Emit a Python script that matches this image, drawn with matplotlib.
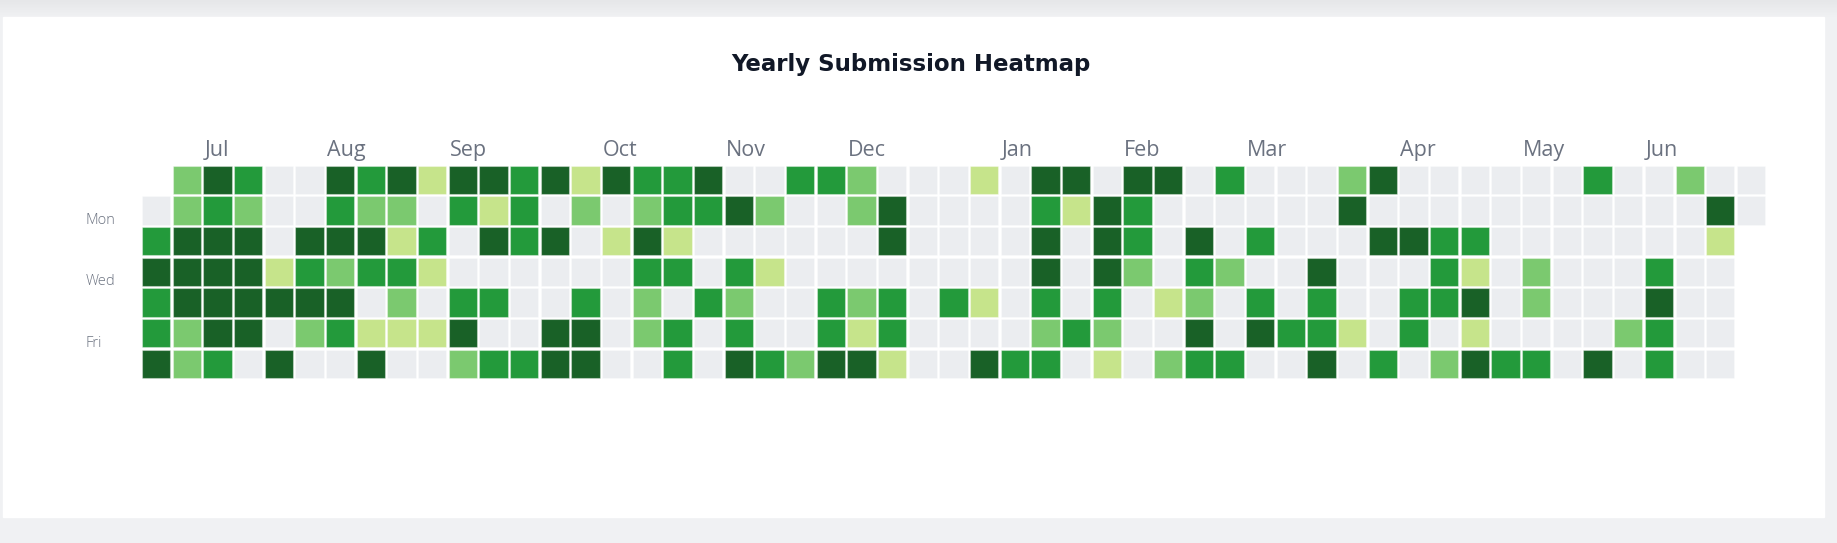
import datetime as dt
import numpy as np
import matplotlib.pyplot as plt
from matplotlib.patches import Rectangle
from matplotlib.colors import LinearSegmentedColormap

# Aktivitetsnivå per dag (0-4), juli 2024 - juni 2025
jul = [0, 3, 4, 3, 3, 4, 2, 2, 4, 4, 4, 2, 2, 4, 3, 4, 4, 4, 4, 3, 3, 2, 4, 4, 4, 4, 0, 0, 0, 0, 1]
aug = [4, 0, 4, 0, 0, 4, 3, 4, 2, 0, 4, 3, 4, 2, 4, 3, 0, 3, 2, 4, 3, 0, 1, 4, 4, 2, 1, 3, 2, 1, 0]
sep = [1, 0, 3, 1, 0, 1, 0, 4, 3, 0, 0, 3, 4, 2, 4, 1, 4, 0, 3, 0, 3, 3, 3, 3, 0, 0, 0, 3, 4, 0]
oct_ = [4, 0, 0, 4, 4, 1, 2, 0, 0, 3, 4, 4, 4, 0, 1, 0, 0, 0, 0, 3, 2, 4, 3, 2, 2, 0, 3, 3, 1, 3, 0]
nov = [3, 3, 4, 3, 0, 0, 3, 0, 0, 0, 4, 0, 3, 2, 3, 4, 0, 2, 0, 1, 0, 0, 3, 3, 0, 0, 0, 0, 0, 2]
dec = [3, 0, 0, 0, 3, 3, 4, 2, 2, 0, 0, 2, 1, 4, 0, 4, 4, 0, 3, 3, 1, 0, 0, 0, 0, 0, 0, 0, 0, 0, 0]
jan = [0, 3, 0, 0, 1, 0, 0, 0, 1, 0, 4, 0, 0, 0, 0, 0, 0, 3, 4, 3, 4, 4, 3, 2, 3, 4, 1, 0, 0, 0, 3]
feb = [0, 0, 4, 4, 4, 3, 2, 1, 4, 3, 3, 2, 0, 0, 0, 4, 0, 0, 0, 1, 0, 2, 0, 0, 4, 3, 2, 4]
mar = [3, 3, 0, 0, 2, 0, 0, 3, 0, 0, 3, 0, 3, 4, 0, 0, 0, 0, 0, 0, 3, 0, 0, 0, 0, 4, 3, 3, 4, 2, 4]
apr = [0, 0, 0, 1, 0, 4, 0, 4, 0, 0, 0, 3, 0, 0, 4, 0, 3, 3, 0, 0, 0, 3, 3, 3, 0, 2, 0, 0, 3, 1]
may = [4, 1, 4, 0, 0, 0, 0, 0, 0, 3, 0, 0, 0, 2, 2, 0, 3, 0, 0, 0, 0, 0, 0, 0, 3, 0, 0, 0, 0, 0, 4]
jun = [0, 0, 0, 0, 0, 2, 0, 0, 0, 0, 3, 4, 3, 3, 2, 0, 0, 0, 0, 0, 0, 0, 4, 1, 0, 0, 0, 0, 0, 0]

months = [jul, aug, sep, oct_, nov, dec, jan, feb, mar, apr, may, jun]
month_names = ["Jul", "Aug", "Sep", "Oct", "Nov", "Dec", "Jan", "Feb", "Mar", "Apr", "May", "Jun"]
day_names = ["Mon", "Wed", "Fri"]
day_rows = [1, 3, 5]
colors = ["#ebedf0", "#c6e48b", "#7bc96f", "#239a3b", "#196127"]

start = dt.date(2024, 7, 1)
offset = (start.weekday() + 1) % 7  # söndag = rad 0

W, H = 1837, 543
fig = plt.figure(figsize=(W / 100, H / 100), dpi=100)
fig.patch.set_facecolor("#f0f1f3")

# Bakgrund: kort med skugga upptill
bg = fig.add_axes([0, 0, 1, 1])
bg.set_xlim(0, W)
bg.set_ylim(H, 0)
bg.axis("off")
cmap = LinearSegmentedColormap.from_list("sh", ["#e6e7e9", "#f0f1f3"])
bg.imshow(np.linspace(0, 1, 30)[:, None], extent=[0, W, 17, 0], cmap=cmap, aspect="auto")
bg.add_patch(Rectangle((3, 17), 1821, 500, color="white", zorder=2))

pitch = 30.67
ax = fig.add_axes([142 / W, 1 - (165.7 + 7 * pitch) / H, 53 * pitch / W, 7 * pitch / H])
ax.set_xlim(0, 53)
ax.set_ylim(7, 0)
ax.axis("off")
ax.patch.set_alpha(0)

cols, rows, cell_colors = [], [], []
month_cols = []
for m, levels in enumerate(months):
    y = start.year + (start.month - 1 + m) // 12
    mo = (start.month - 1 + m) % 12 + 1
    first = dt.date(y, mo, 1)
    for i, lv in enumerate(levels):
        p = (first - start).days + i + offset
        cols.append(p // 7)
        rows.append(p % 7)
        cell_colors.append(colors[lv])
    # första söndagen i månaden
    sunday = first + dt.timedelta(days=(6 - first.weekday()) % 7)
    month_cols.append(((sunday - start).days + offset) // 7 + 1)

size = 28.3 / pitch
ax.bar(cols, size, width=size, bottom=rows, align="edge", color=cell_colors,
       edgecolor=(1, 1, 1, 0.35), linewidth=0.8)

for c, name in zip(month_cols, month_names):
    ax.text(c + 0.03, -0.33, name, ha="left", va="baseline", fontsize=15.5,
            family="Open Sans", weight="normal", color="#6b7280")

for r, name in zip(day_rows, day_names):
    ax.text(-1.826, r + 0.9, name, ha="left", va="baseline", fontsize=10.5,
            family="Open Sans", weight="light", color="#6b7280")

fig.text(911 / W, 1 - 71 / H, "Yearly Submission Heatmap", ha="center", va="baseline",
         fontsize=16.5, family="DejaVu Sans", weight="bold", color="#111827")

fig.savefig("out.png", dpi=100, facecolor=fig.get_facecolor())
